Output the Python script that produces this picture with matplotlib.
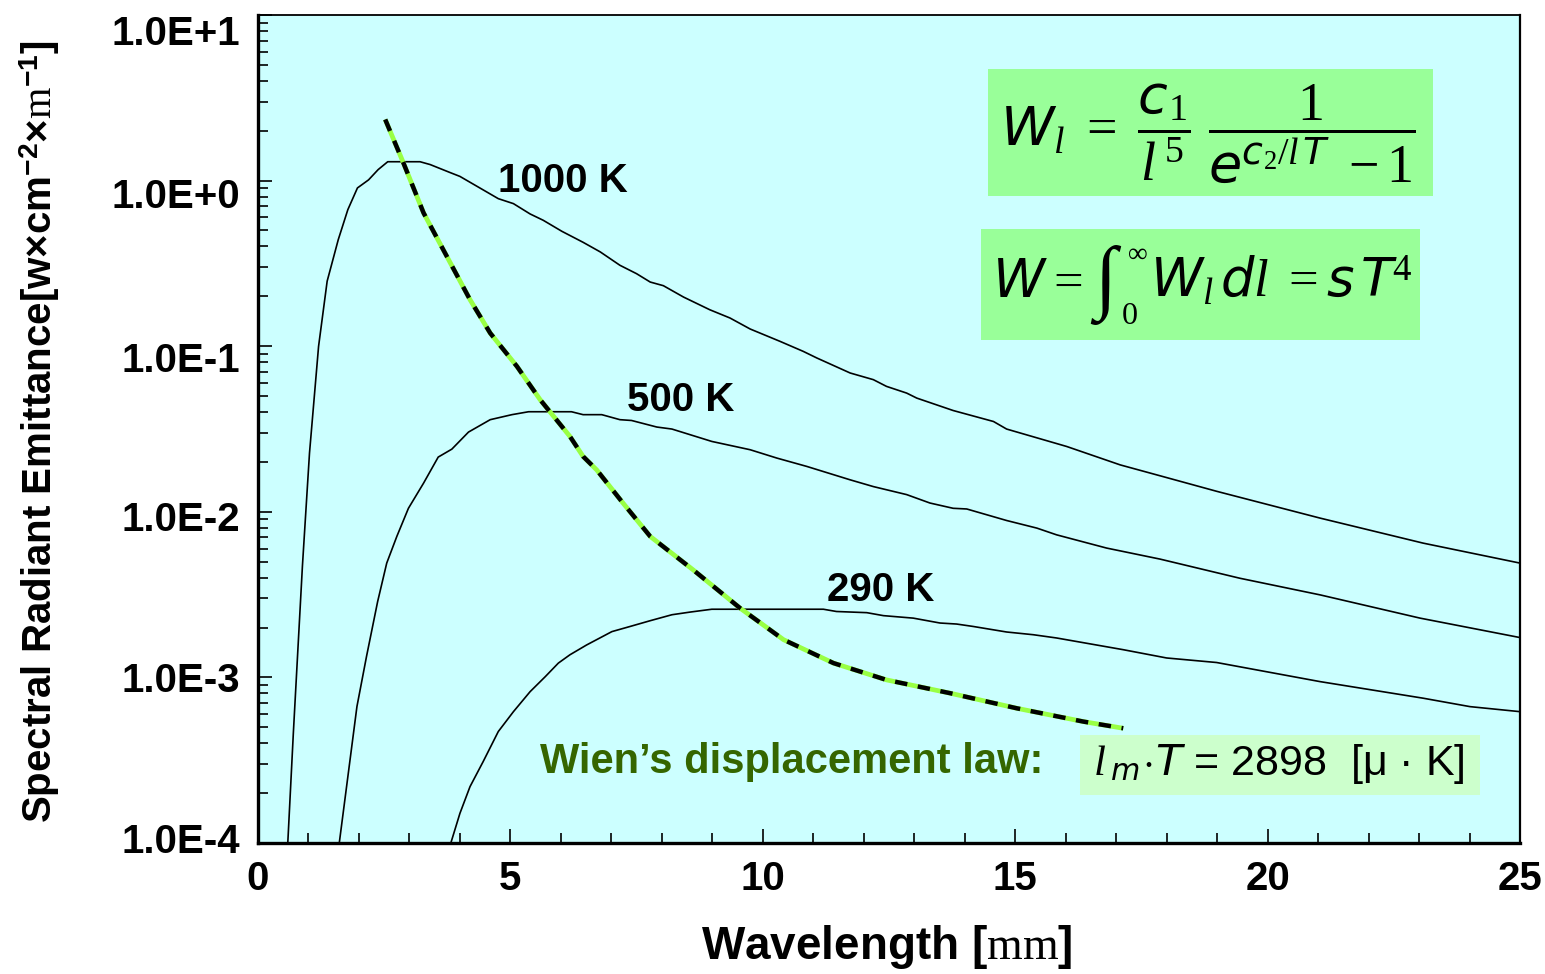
import matplotlib
matplotlib.use("Agg")
import matplotlib.pyplot as plt
from matplotlib.patches import Rectangle
from matplotlib.ticker import MultipleLocator, LogLocator, FuncFormatter, NullFormatter
from matplotlib.transforms import ScaledTranslation
from matplotlib import font_manager
import numpy as np

# ---------------- data ----------------
x_1000 = [0.59, 0.70, 0.88, 1.02, 1.20, 1.37, 1.59, 1.78, 1.97, 2.19, 2.38, 2.57, 3.21, 3.41,
          3.80, 4.00, 4.76, 5.06, 5.39, 5.65, 6.02, 6.44, 6.78, 7.17, 7.50, 7.77, 8.03, 8.43,
          8.95, 9.35, 9.75, 10.34, 10.80, 11.07, 11.73, 12.19, 12.45, 12.85, 13.05, 13.77,
          14.57, 14.83, 16.02, 17.08, 17.87, 18.99, 21.04, 23.08, 25.0]
y_1000 = [1.0e-4, 4.6e-4, 4.7e-3, 0.0226, 0.0998, 0.247, 0.440, 0.668, 0.903, 1.01, 1.165,
          1.30, 1.30, 1.25, 1.12, 1.06, 0.778, 0.726, 0.629, 0.576, 0.494, 0.424, 0.371,
          0.308, 0.274, 0.244, 0.232, 0.198, 0.166, 0.148, 0.127, 0.107, 0.0931, 0.0849,
          0.0689, 0.0628, 0.0572, 0.0521, 0.0486, 0.0409, 0.0351, 0.0316, 0.0248, 0.0192,
          0.0165, 0.0133, 0.00916, 0.00647, 0.0049]

x_500 = [1.61, 1.96, 2.15, 2.37, 2.55, 2.75, 2.98, 3.28, 3.57, 3.84, 4.17, 4.60, 5.03, 5.36,
         6.21, 6.44, 6.81, 7.17, 7.40, 7.90, 8.20, 8.99, 9.75, 10.28, 10.87, 11.73, 12.19,
         12.85, 13.31, 13.77, 14.04, 14.83, 15.43, 15.82, 16.81, 17.87, 19.45, 21.04, 23.02, 25.0]
y_500 = [1.0e-4, 6.67e-4, 1.34e-3, 2.87e-3, 4.90e-3, 7.10e-3, 0.0105, 0.0149, 0.0214, 0.0239,
         0.0303, 0.0360, 0.0386, 0.0402, 0.0402, 0.0386, 0.0386, 0.0360, 0.0356, 0.0325,
         0.0316, 0.0266, 0.0237, 0.0211, 0.0188, 0.0156, 0.0142, 0.0127, 0.0113, 0.0105,
         0.0104, 0.00886, 0.00797, 0.00726, 0.00604, 0.00518, 0.00397, 0.00315, 0.00228, 0.00174]

x_290 = [3.82, 4.00, 4.20, 4.46, 4.76, 5.06, 5.39, 5.69, 5.95, 6.18, 6.51, 7.01, 7.37, 7.77,
         8.20, 8.56, 8.99, 11.20, 11.46, 12.06, 12.39, 12.98, 13.51, 13.84, 14.17, 14.83,
         15.36, 15.82, 17.14, 18.00, 18.99, 21.04, 23.08, 24.01, 25.0]
y_290 = [1.0e-4, 1.51e-4, 2.19e-4, 3.10e-4, 4.71e-4, 6.21e-4, 8.20e-4, 1.01e-3, 1.22e-3,
         1.37e-3, 1.57e-3, 1.89e-3, 2.03e-3, 2.20e-3, 2.39e-3, 2.48e-3, 2.58e-3, 2.58e-3,
         2.50e-3, 2.46e-3, 2.36e-3, 2.28e-3, 2.13e-3, 2.10e-3, 2.03e-3, 1.88e-3, 1.81e-3,
         1.73e-3, 1.47e-3, 1.31e-3, 1.23e-3, 9.43e-4, 7.49e-4, 6.66e-4, 6.21e-4]

x_wien = [2.52, 2.88, 3.28, 3.74, 4.20, 4.60, 5.13, 5.59, 6.18, 6.44, 6.71, 7.21, 7.77, 8.62,
          9.55, 10.41, 11.40, 12.45, 13.71, 15.03, 16.35, 17.14]
y_wien = [2.34, 1.28, 0.638, 0.349, 0.191, 0.120, 0.0755, 0.0475, 0.0285, 0.0216, 0.0179,
          0.0115, 7.10e-3, 4.46e-3, 2.62e-3, 1.69e-3, 1.22e-3, 9.66e-4, 8.03e-4, 6.51e-4,
          5.41e-4, 4.93e-4]

curve_labels = ["1000 K", "500 K", "290 K"]
x_ticks = [0, 5, 10, 15, 20, 25]
y_decades = [-4, -3, -2, -1, 0, 1]

# ---------------- fonts ----------------
def has_font(name):
    try:
        font_manager.findfont(font_manager.FontProperties(family=name), fallback_to_default=False)
        return True
    except Exception:
        return False

narrow = "Liberation Sans Narrow" if has_font("Liberation Sans Narrow") else "Liberation Sans"

plt.rcParams['font.family'] = ['Liberation Sans', 'DejaVu Sans']
plt.rcParams['mathtext.fontset'] = 'custom'
plt.rcParams['mathtext.rm'] = 'Liberation Serif'
plt.rcParams['mathtext.it'] = 'Liberation Serif:italic'
plt.rcParams['mathtext.bf'] = 'Liberation Sans:bold'
plt.rcParams['mathtext.sf'] = 'DejaVu Sans:italic'

W, H = 1545, 974
fig = plt.figure(figsize=(W / 100, H / 100), dpi=100)
fig.patch.set_facecolor('white')
ax = fig.add_axes([258 / W, 131 / H, 1262 / W, 828 / H])
ax.set_facecolor('#CCFFFF')

ax.set_yscale('log')
ax.set_xlim(0, 25)
ax.set_ylim(1e-4, 1e1)

# curves
for xs, ys in [(x_1000, y_1000), (x_500, y_500), (x_290, y_290)]:
    ax.plot(xs, ys, color='black', lw=1.2, zorder=3, clip_on=True)

# Wien line: green under black dashes
ax.plot(x_wien, y_wien, color='#99FF44', lw=3.4, zorder=4, solid_capstyle='butt')
ax.plot(x_wien, y_wien, color='black', lw=3.2, zorder=5,
        linestyle=(0, (2.8, 2.4)), dash_capstyle='butt')

# curve labels
label_pos = [(4.75, 1.0), (7.3, 0.0475), (11.28, 0.00338)]
for txt, (lx, ly) in zip(curve_labels, label_pos):
    ax.text(lx, ly, txt, fontsize=29, fontweight='bold', ha='left', va='center', zorder=6)

# axes ticks
ax.set_xticks(x_ticks)
ax.set_xticklabels([str(t) for t in x_ticks])
ax.xaxis.set_minor_locator(MultipleLocator(1))
ax.set_yticks([10.0 ** d for d in y_decades])
ax.yaxis.set_major_formatter(FuncFormatter(lambda v, p: "1.0E%+d" % int(round(np.log10(v)))))
ax.yaxis.set_minor_locator(LogLocator(base=10, subs=np.arange(2, 10) * 1.0, numticks=20))
ax.yaxis.set_minor_formatter(NullFormatter())

ax.tick_params(axis='both', which='major', direction='in', length=10, width=1.2,
               labelsize=29, pad=12, top=False, right=False)
ax.tick_params(axis='both', which='minor', direction='in', length=7.5, width=1.2,
               top=False, right=False)
ax.tick_params(axis='y', pad=13)
for lab in ax.get_xticklabels() + ax.get_yticklabels():
    lab.set_fontweight('bold')

# the reference's y labels sit slightly off their ticks (pixels, downward positive)
ylab_shift = {-4: -5, -3: 0, -2: 4, -1: 11, 0: 12, 1: 15}
fig.canvas.draw()
for lab, d in zip(ax.get_yticklabels(), sorted(y_decades)):
    lab.set_transform(lab.get_transform() +
                      ScaledTranslation(0, -ylab_shift[d] / 100.0, fig.dpi_scale_trans))

for side, lw in [('left', 2.4), ('bottom', 2.4), ('top', 1.3), ('right', 1.6)]:
    ax.spines[side].set_linewidth(lw)
    ax.spines[side].set_color('black')

# axis labels
fig.text(887 / W, 1 - 947 / H, r"Wavelength [$\mathrm{mm}$]", fontsize=33, fontweight='bold',
         ha='center', va='center')
fig.text(40 / W, 1 - 432 / H,
         r"Spectral Radiant Emittance[w×cm$^{\mathbf{-2}}$×$\mathrm{m}^{\mathbf{-1}}$]",
         fontsize=29, fontweight='bold', rotation=90, ha='center', va='center')

# formula boxes
def fig_box(x0, y0, x1, y1, color):
    r = Rectangle((x0 / W, 1 - y1 / H), (x1 - x0) / W, (y1 - y0) / H,
                  transform=fig.transFigure, facecolor=color, edgecolor='none', zorder=1)
    fig.patches.append(r)

fig_box(988, 69, 1433, 196, '#99FF99')
fig_box(981, 229, 1420, 340, '#99FF99')
fig_box(1080, 735, 1480, 795, '#CCFFCC')

def ftext(px, py, s, **kw):
    return fig.text(px / W, 1 - py / H, s, zorder=5, **kw)

# Planck's law
ftext(1208, 133,
      r"$\mathsf{W}_{\mathit{l}}\ =\ \dfrac{\mathsf{c}_{1}}{\mathit{l}^{\,5}}\ \dfrac{1}{\mathsf{e}^{\mathsf{c}_{2}/\mathit{l}\,\mathsf{T}}\ -1}$",
      fontsize=39, ha='center', va='center')

# Stefan-Boltzmann law, built from pieces so the integral sign can be large
base2 = 297
ftext(992, base2, r"$\mathsf{W}$", fontsize=38, ha='left', va='baseline')
ftext(1064, base2, r"$=$", fontsize=38, ha='center', va='baseline')
ftext(1106, 285, r"$\int$", fontsize=58, ha='center', va='center')
ftext(1137, 254, r"$\infty$", fontsize=20, ha='center', va='center')
ftext(1129, 316, r"$0$", fontsize=23, ha='center', va='center')
ftext(1150, base2, r"$\mathsf{W}_{\mathit{l}}\,\mathsf{d}\mathit{l}\ =\mathsf{s}\,\mathsf{T}^{4}$",
      fontsize=38, ha='left', va='baseline')

# Wien's law
ftext(1279, 764, r"$\mathit{l}_{\;\mathsf{m}}\!\cdot\!\mathsf{T}$ = 2898  [μ · K]",
      fontsize=31, ha='center', va='center', family=[narrow, 'DejaVu Sans'])
ftext(540, 762, "Wien\u2019s displacement law:", fontsize=30,
      fontweight='bold', color='#356600', ha='left', va='center')

fig.savefig("out.png", dpi=100)
